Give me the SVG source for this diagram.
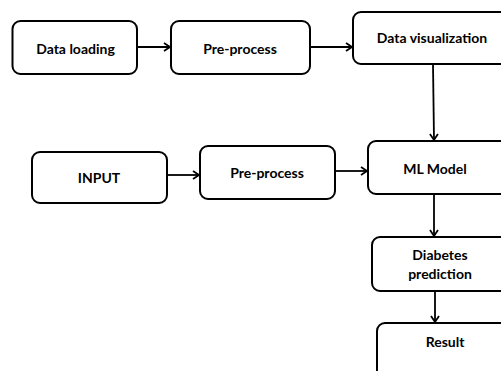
<svg xmlns="http://www.w3.org/2000/svg" width="501" height="371" viewBox="0 0 501 371">
<defs>
<marker id="arr" markerWidth="10" markerHeight="10" refX="7" refY="5" orient="auto" markerUnits="userSpaceOnUse">
<path d="M1,1 L7,5 L1,9" fill="none" stroke="#000" stroke-width="1.8"/>
</marker>
</defs>
<style>
.box{fill:#fff;stroke:#000;stroke-width:2}
.t{font-family:Lato,"Liberation Sans",sans-serif;font-weight:bold;font-size:14px;fill:#000;text-anchor:middle}
.c{stroke:#000;stroke-width:1.8;fill:none;marker-end:url(#arr)}
</style>
<rect width="501" height="371" fill="#fff"/>
<g id="connectors">
<line class="c" x1="137" y1="47" x2="170" y2="47"/>
<line class="c" x1="310" y1="47" x2="352" y2="47"/>
<line class="c" x1="433" y1="64" x2="434" y2="140"/>
<line class="c" x1="167" y1="175" x2="199" y2="175"/>
<line class="c" x1="335" y1="171" x2="367" y2="171"/>
<line class="c" x1="434" y1="194" x2="434" y2="236"/>
<line class="c" x1="435" y1="291" x2="435" y2="322"/>
</g>
<g id="n_data_loading">
<rect class="box" x="12.5" y="21" width="124.5" height="53" rx="8"/>
<text class="t" x="75.5" y="54">Data loading</text>
</g>
<g id="n_preprocess1">
<rect class="box" x="171" y="21" width="139" height="53" rx="8"/>
<text class="t" x="240" y="54">Pre-process</text>
</g>
<g id="n_data_vis">
<rect class="box" x="353" y="12" width="160" height="52" rx="8"/>
<text class="t" x="432" y="43">Data visualization</text>
</g>
<g id="n_input">
<rect class="box" x="32" y="152" width="135" height="51" rx="8"/>
<text class="t" x="99" y="183">INPUT</text>
</g>
<g id="n_preprocess2">
<rect class="box" x="200" y="146" width="135" height="53" rx="8"/>
<text class="t" x="267" y="178">Pre-process</text>
</g>
<g id="n_ml">
<rect class="box" x="368" y="141" width="145" height="53" rx="8"/>
<text class="t" x="435" y="174">ML Model</text>
</g>
<g id="n_diabetes">
<rect class="box" x="372" y="237" width="140" height="54" rx="8"/>
<text class="t" x="440" y="260">Diabetes</text>
<text class="t" x="440" y="279">prediction</text>
</g>
<g id="n_result">
<rect class="box" x="377" y="323" width="140" height="60" rx="8"/>
<text class="t" x="445" y="347">Result</text>
</g>
</svg>
